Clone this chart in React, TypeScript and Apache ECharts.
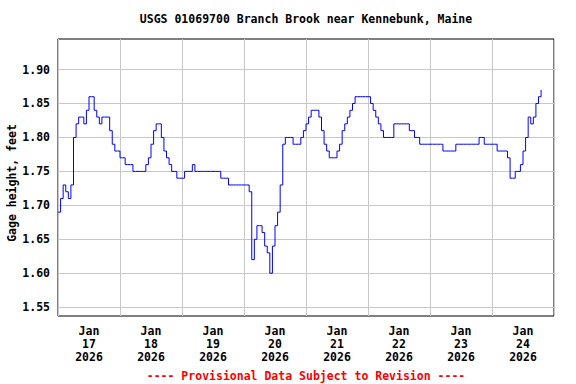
import React, { useEffect, useRef } from "react";
import * as echarts from "echarts";

const TITLE = "USGS 01069700 Branch Brook near Kennebunk, Maine";
const Y_NAME = "Gage height, feet";
const FOOTER = "---- Provisional Data Subject to Revision ----";

const DAY_LABELS = [
  "Jan\n17\n2026",
  "Jan\n18\n2026",
  "Jan\n19\n2026",
  "Jan\n20\n2026",
  "Jan\n21\n2026",
  "Jan\n22\n2026",
  "Jan\n23\n2026",
  "Jan\n24\n2026",
];
// hours since Jan 17 00:00
const DAY_BOUNDARY_HOURS = [0, 24, 48, 72, 96, 120, 144, 168, 192];
const DAY_LABEL_HOURS = [12, 36, 60, 84, 108, 132, 156, 180];
const Y_TICKS = [1.55, 1.6, 1.65, 1.7, 1.75, 1.8, 1.85, 1.9];

// hourly gage height, feet
const JAN17 = [1.69, 1.71, 1.73, 1.72, 1.71, 1.73, 1.8, 1.82, 1.83, 1.83, 1.82, 1.84, 1.86, 1.86, 1.84, 1.83, 1.82, 1.83, 1.83, 1.83, 1.81, 1.79, 1.78, 1.78];
const JAN18 = [1.77, 1.77, 1.76, 1.76, 1.76, 1.75, 1.75, 1.75, 1.75, 1.75, 1.76, 1.77, 1.79, 1.81, 1.82, 1.82, 1.8, 1.78, 1.77, 1.76, 1.75, 1.75, 1.74, 1.74];
const JAN19 = [1.74, 1.75, 1.75, 1.75, 1.76, 1.75, 1.75, 1.75, 1.75, 1.75, 1.75, 1.75, 1.75, 1.75, 1.75, 1.74, 1.74, 1.74, 1.73, 1.73, 1.73, 1.73, 1.73, 1.73];
const JAN20 = [1.73, 1.73, 1.72, 1.62, 1.65, 1.67, 1.67, 1.66, 1.64, 1.63, 1.6, 1.64, 1.67, 1.69, 1.73, 1.79, 1.8, 1.8, 1.8, 1.79, 1.79, 1.79, 1.8, 1.81];
const JAN21 = [1.82, 1.83, 1.84, 1.84, 1.84, 1.83, 1.81, 1.79, 1.78, 1.77, 1.77, 1.77, 1.78, 1.79, 1.81, 1.82, 1.83, 1.84, 1.85, 1.86, 1.86, 1.86, 1.86, 1.86];
const JAN22 = [1.86, 1.85, 1.84, 1.83, 1.82, 1.81, 1.8, 1.8, 1.8, 1.8, 1.82, 1.82, 1.82, 1.82, 1.82, 1.82, 1.81, 1.81, 1.8, 1.8, 1.79, 1.79, 1.79, 1.79];
const JAN23 = [1.79, 1.79, 1.79, 1.79, 1.79, 1.78, 1.78, 1.78, 1.78, 1.78, 1.79, 1.79, 1.79, 1.79, 1.79, 1.79, 1.79, 1.79, 1.79, 1.8, 1.8, 1.79, 1.79, 1.79];
const JAN24 = [1.79, 1.79, 1.78, 1.78, 1.78, 1.78, 1.77, 1.74, 1.74, 1.75, 1.75, 1.76, 1.78, 1.8, 1.83, 1.82, 1.83, 1.85, 1.86, 1.87];

const GAGE_HEIGHT = [...JAN17, ...JAN18, ...JAN19, ...JAN20, ...JAN21, ...JAN22, ...JAN23, ...JAN24];

const FONT = "'DejaVu Sans Mono', monospace";

export default function App() {
  const ref = useRef<HTMLDivElement>(null);

  useEffect(() => {
    if (!ref.current) return;
    const chart = echarts.init(ref.current, null, { renderer: "svg" });
    const option: any = {
      animation: false,
      backgroundColor: "#ffffff",
      grid: {
        left: 58,
        right: 22,
        top: 39,
        bottom: 68,
        show: true,
        borderColor: "#000000",
        borderWidth: 1,
        backgroundColor: "transparent",
      },
      xAxis: {
        type: "value",
        min: 0,
        max: 192,
        axisLine: { show: false },
        axisTick: { show: false, customValues: DAY_BOUNDARY_HOURS },
        splitLine: { show: true, lineStyle: { color: "#c8c8c8", width: 1 } },
        axisLabel: {
          customValues: DAY_LABEL_HOURS,
          formatter: (v: number) => DAY_LABELS[DAY_LABEL_HOURS.indexOf(Math.round(v))] ?? "",
          fontFamily: FONT,
          fontWeight: "bold",
          fontSize: 11.5,
          lineHeight: 13,
          color: "#000000",
          margin: 8,
        },
      },
      yAxis: {
        type: "value",
        min: 1.537,
        max: 1.945,
        axisLine: { show: false },
        axisTick: { show: false, customValues: Y_TICKS },
        splitLine: { show: true, lineStyle: { color: "#c8c8c8", width: 1 } },
        axisLabel: {
          customValues: Y_TICKS,
          formatter: (v: number) => v.toFixed(2),
          fontFamily: FONT,
          fontWeight: "bold",
          fontSize: 11.5,
          color: "#000000",
          margin: 8,
        },
      },
      series: [
        {
          type: "line",
          step: "end",
          showSymbol: false,
          data: GAGE_HEIGHT.map((v, i) => [i, v]),
          lineStyle: { color: "#0000ff", width: 1 },
          itemStyle: { color: "#0000ff" },
          z: 5,
        },
      ],
      graphic: [
        {
          type: "text",
          x: 306,
          y: 19,
          style: {
            text: TITLE,
            textAlign: "center",
            textVerticalAlign: "middle",
            fontFamily: FONT,
            fontWeight: "bold",
            fontSize: 11.5,
            fill: "#000000",
          },
        },
        {
          type: "text",
          x: 12,
          y: 183,
          rotation: Math.PI / 2,
          style: {
            text: Y_NAME,
            textAlign: "center",
            textVerticalAlign: "middle",
            fontFamily: FONT,
            fontWeight: "bold",
            fontSize: 11.5,
            fill: "#000000",
          },
        },
        {
          type: "text",
          x: 306,
          y: 376,
          style: {
            text: FOOTER,
            textAlign: "center",
            textVerticalAlign: "middle",
            fontFamily: FONT,
            fontWeight: "bold",
            fontSize: 11.5,
            fill: "#ff0000",
          },
        },
      ],
    };
    chart.setOption(option);
    return () => chart.dispose();
  }, []);

  return (
    <div
      ref={ref}
      style={{ position: "fixed", left: 0, top: 0, width: 576, height: 384 }}
    />
  );
}
